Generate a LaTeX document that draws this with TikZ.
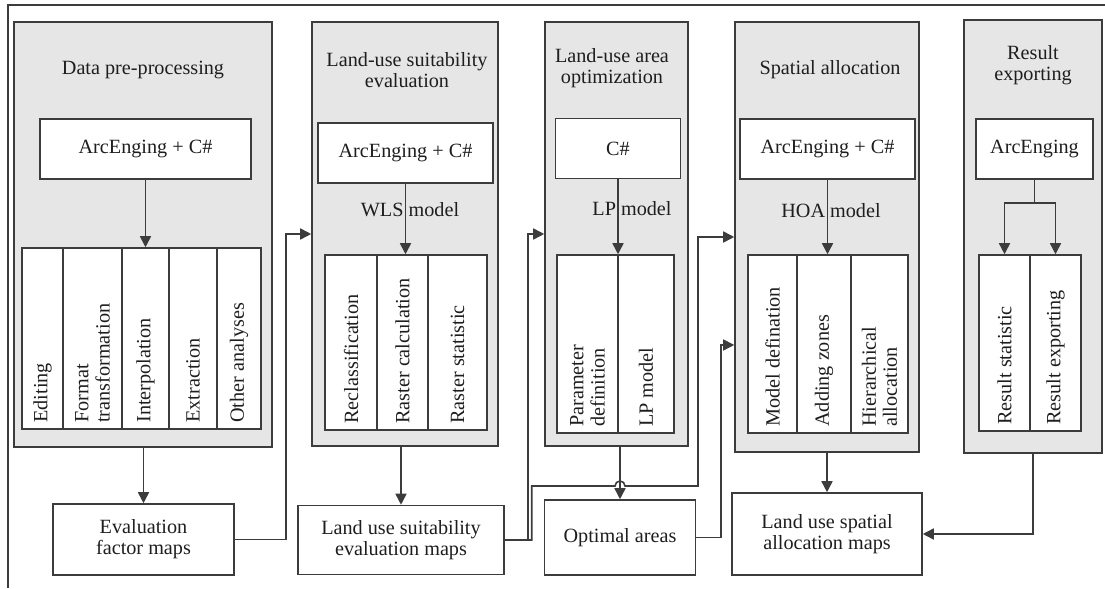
\documentclass[tikz,border=0pt]{standalone}
\usepackage{fontspec}
\setmainfont{Liberation Serif}
\usetikzlibrary{arrows.meta}
\definecolor{panelgray}{RGB}{230,230,230}
\definecolor{linegray}{RGB}{60,60,60}
\definecolor{textgray}{RGB}{30,30,30}

\begin{document}
\begin{tikzpicture}[x=0.02cm, y=-0.02cm,
    every node/.style={text=textgray, font=\fontsize{11.5}{12}\selectfont},
    panel/.style={draw=linegray, fill=panelgray, line width=0.9pt, inner sep=0pt},
    tool/.style={draw=linegray, fill=white, line width=0.9pt, inner sep=0pt, minimum height=1.2cm},
    row/.style={draw=linegray, fill=white, line width=0.9pt, inner sep=0pt},
    vlabel/.style={rotate=90, anchor=west, align=left, inner sep=0pt},
    mapbox/.style={draw=linegray, fill=white, line width=0.9pt, inner sep=0pt, align=center},
    title/.style={align=center},
    arrow/.style={-{Triangle[length=0.22cm,width=0.22cm]}, draw=linegray, line width=0.9pt},
    link/.style={draw=linegray, line width=0.9pt},
]
\useasboundingbox (0,0) rectangle (1105,588);
\draw[link] (8,588) -- (8,5) -- (1105,5);

% panels
\node[panel, minimum width=5.16cm, minimum height=8.5cm] (p1) at (143,234.5) {};
\node[panel, minimum width=3.72cm, minimum height=8.48cm] (p2) at (405,234) {};
\node[panel, minimum width=2.86cm, minimum height=8.48cm] (p3) at (616.5,234) {};
\node[panel, minimum width=3.68cm, minimum height=8.6cm] (p4) at (827,237) {};
\node[panel, minimum width=2.76cm, minimum height=8.66cm] (p5) at (1033,236.5) {};

\node[title] (title1) at (143,70) {Data pre-processing};
\node[title] (title2) at (407,70) {Land-use suitability\\evaluation};
\node[title] (title3) at (612,68) {Land-use area\\optimization};
\node[title] (title4) at (830,70) {Spatial allocation};
\node[title] (title5) at (1033,65) {Result\\exporting};

% tools
\node[tool, minimum width=4.22cm] (t1) at (145.5,149) {ArcEnging + C\#};
\node[tool, minimum width=3.5cm] (t2) at (405.5,153) {ArcEnging + C\#};
\node[tool, minimum width=2.5cm] (t3) at (618,148.5) {C\#};
\node[tool, minimum width=3.5cm] (t4) at (827.5,149) {ArcEnging + C\#};
\node[tool, minimum width=2.34cm] (t5) at (1034.5,149) {ArcEnging};

\node (wls) at (410,210) {WLS model};
\node (lp) at (632,209) {LP model};
\node (hoa) at (831,211) {HOA model};

% operation rows
\node[row, minimum width=4.78cm, minimum height=3.62cm] (r1) at (141.5,338.5) {};
\node[row, minimum width=3.24cm, minimum height=3.5cm] (r2) at (406,342.5) {};
\node[row, minimum width=2.34cm, minimum height=3.56cm] (r3) at (615.5,344) {};
\node[row, minimum width=3.2cm, minimum height=3.56cm] (r4) at (828,344) {};
\node[row, minimum width=2.04cm, minimum height=3.52cm] (r5) at (1030,343) {};

\foreach \x in {63,122,169,217} \draw[link] (\x,248) -- (\x,429);
\foreach \x in {377,428} \draw[link] (\x,255) -- (\x,430);
\draw[link] (618,255) -- (618,433);
\foreach \x in {797,851} \draw[link] (\x,255) -- (\x,433);
\draw[link] (1030,255) -- (1030,431);

\node[vlabel] (editing) at (42.5,423) {Editing};
\node[vlabel] (format) at (92.5,423) {Format\\transformation};
\node[vlabel] (interp) at (145.5,423) {Interpolation};
\node[vlabel] (extract) at (193,423) {Extraction};
\node[vlabel] (other) at (239,423) {Other analyses};

\node[vlabel] (reclass) at (351,424) {Reclassification};
\node[vlabel] (rcalc) at (402.5,424) {Raster calculation};
\node[vlabel] (rstat) at (457.5,424) {Raster statistic};

\node[vlabel] (param) at (587.5,427) {Parameter\\definition};
\node[vlabel] (lpmodel) at (646,427) {LP model};

\node[vlabel] (modeldef) at (772.5,427) {Model defination};
\node[vlabel] (zones) at (824,427) {Adding zones};
\node[vlabel] (hier) at (879.5,427) {Hierarchical\\allocation};

\node[vlabel] (resstat) at (1004.5,425) {Result statistic};
\node[vlabel] (resexp) at (1055.5,425) {Result exporting};

\draw[arrow] (t1.south) -- (t1.south |- r1.north);
\draw[arrow] (t2.south) -- (t2.south |- r2.north);
\draw[arrow] (t3.south) -- (t3.south |- r3.north);
\draw[arrow] (t4.south) -- (t4.south |- r4.north);
\draw[arrow] (t5.south) -- ++(0,23) -| ([xshift=-0.51cm]r5.north);
\draw[arrow] (t5.south) -- ++(0,23) -| ([xshift=0.51cm]r5.north);

% maps
\node[mapbox, minimum width=3.62cm, minimum height=1.42cm] (m1) at (143.5,539.5) {Evaluation\\factor maps};
\node[mapbox, minimum width=4.12cm, minimum height=1.38cm] (m2) at (401,540) {Land use suitability\\evaluation maps};
\node[mapbox, minimum width=3.02cm, minimum height=1.5cm] (m3) at (620,537.5) {Optimal areas};
\node[mapbox, minimum width=3.8cm, minimum height=1.64cm] (m4) at (827,534) {Land use spatial\\allocation maps};

\coordinate (hop) at (620,486);

\draw[arrow] (m1.north |- p1.south) -- (m1.north);
\draw[arrow] (m2.north |- p2.south) -- (m2.north);
\draw[arrow] (m3.north |- p3.south) -- (m3.north);
\draw[arrow] (p4.south) -- (m4.north);
\draw[arrow] (p5.south) |- (m4.east);

\draw[arrow] (m1.east) -- ++(51,0) |- (p2.west);
\draw[arrow] (m2.east) -- ++(23,0) |- (p3.west);
\draw[arrow] (m2.east) -- ++(27,0) |- ([xshift=-0.1cm]hop)
    arc[start angle=180, end angle=0, radius=0.1cm] -- ++(73,0) |- (p4.west);
\draw[arrow] (m3.east) -- ++(25,0) |- ([yshift=-2.16cm]p4.west);
\end{tikzpicture}
\end{document}
